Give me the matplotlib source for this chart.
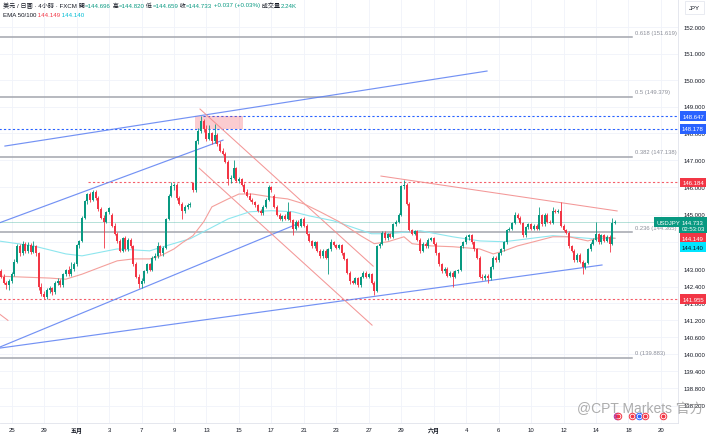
import numpy as np
import matplotlib
matplotlib.use('Agg')
import matplotlib.pyplot as plt
import matplotlib.transforms as mtransforms
from matplotlib.patches import Rectangle

plt.rcParams['font.family'] = ['Liberation Sans', 'Noto Sans CJK TC', 'DejaVu Sans']

# USDJPY 4h candles (one value per bar, left to right)
opens = [142.95, 142.75, 142.55, 142.45, 142.60, 142.85, 143.30, 143.85, 143.60, 143.95,
         143.70, 143.90, 143.65, 143.85, 143.60, 142.40, 142.15, 142.02, 142.30, 142.35,
         142.20, 142.55, 142.62, 142.45, 142.85, 143.00, 142.85, 143.05, 143.20, 143.90,
         144.05, 144.90, 145.50, 145.75, 145.55, 145.85, 145.60, 145.20, 144.90, 144.75,
         145.10, 145.00, 144.60, 144.30, 144.05, 143.70, 144.15, 143.75, 144.10, 143.85,
         143.20, 142.75, 142.50, 142.60, 142.95, 143.20, 143.00, 143.45, 143.50, 143.85,
         143.60, 143.80, 144.85, 145.70, 146.05, 146.10, 145.60, 145.40, 145.15, 145.30,
         145.35, 146.15, 145.90, 147.70, 148.10, 148.45, 148.15, 147.80, 148.00, 147.70,
         147.95, 147.60, 147.35, 147.25, 146.95, 146.30, 146.35, 146.70, 146.25, 146.30,
         146.10, 145.85, 145.70, 145.55, 145.45, 145.35, 145.15, 145.05, 145.30, 145.55,
         146.00, 145.70, 145.30, 145.00, 144.85, 144.95, 144.85, 145.10, 144.80, 144.50,
         144.75, 144.60, 144.85, 144.60, 144.30, 144.05, 143.85, 144.00, 143.70, 143.50,
         143.70, 143.45, 143.75, 144.00, 143.90, 143.80, 143.90, 143.60, 143.40, 142.90,
         142.60, 142.55, 142.70, 142.45, 142.75, 142.90, 142.75, 142.85, 142.55, 142.25,
         143.85, 143.95, 144.35, 144.15, 144.30, 144.20, 144.65, 144.75, 145.00, 146.05,
         146.10, 145.40, 144.45, 144.30, 144.40, 144.10, 143.70, 143.95, 143.85, 144.10,
         144.15, 143.95, 143.60, 143.20, 142.95, 143.05, 142.80, 142.90, 142.75, 142.95,
         143.00, 143.85, 144.00, 144.20, 144.25, 144.00, 143.75, 143.45, 142.75, 142.70,
         142.80, 142.70, 143.10, 143.45, 143.35, 143.60, 143.75, 144.00, 144.45, 144.50,
         144.70, 145.00, 144.90, 144.70, 144.25, 144.55, 144.65, 144.50, 144.60, 144.50,
         145.00, 144.65, 145.00, 144.75, 144.70, 145.15, 145.10, 145.15, 144.60, 144.45,
         144.35, 143.85, 143.70, 143.35, 143.55, 143.30, 143.10, 143.25, 143.75, 143.95,
         144.10, 144.30, 144.00, 144.25, 144.05, 144.20, 143.95, 144.696]
highs = [143.02, 142.85, 142.62, 142.68, 142.92, 143.38, 143.95, 143.95, 144.05, 144.00,
         144.00, 143.96, 144.05, 143.92, 143.65, 142.55, 142.25, 142.35, 142.42, 142.40,
         142.60, 142.70, 142.68, 142.90, 143.05, 143.15, 143.30, 143.30, 143.95, 144.10,
         144.95, 145.55, 145.80, 145.82, 145.90, 145.92, 145.70, 145.30, 145.00, 145.15,
         145.30, 145.05, 144.70, 144.38, 144.12, 144.20, 144.22, 144.15, 144.15, 143.90,
         143.28, 142.85, 142.70, 143.00, 143.25, 143.25, 143.50, 143.60, 144.00, 143.92,
         143.85, 144.90, 145.75, 146.20, 146.18, 146.15, 145.70, 145.45, 145.35, 145.42,
         145.45, 146.20, 147.75, 148.20, 148.65, 148.55, 148.30, 148.30, 148.05, 148.35,
         148.00, 147.70, 147.45, 147.30, 147.00, 146.45, 147.00, 146.75, 146.40, 146.35,
         146.15, 145.95, 145.78, 145.62, 145.50, 145.40, 145.22, 145.35, 145.60, 146.10,
         146.05, 145.75, 145.35, 145.08, 145.00, 145.02, 145.45, 145.15, 144.85, 144.80,
         144.82, 144.90, 144.92, 144.65, 144.35, 144.10, 144.05, 144.05, 143.75, 143.75,
         143.75, 143.78, 144.13, 144.05, 143.95, 143.95, 143.95, 143.65, 143.45, 142.95,
         142.65, 142.75, 142.75, 142.80, 142.95, 142.95, 142.90, 142.88, 142.60, 143.90,
         144.02, 144.40, 144.40, 144.35, 144.35, 144.70, 144.80, 145.05, 146.10, 146.28,
         146.15, 145.45, 144.50, 144.45, 144.45, 144.15, 144.00, 144.00, 144.15, 144.20,
         144.18, 144.00, 143.65, 143.25, 143.10, 143.10, 142.95, 142.95, 143.00, 143.05,
         143.90, 144.05, 144.25, 144.30, 144.30, 144.05, 143.80, 143.50, 142.85, 142.85,
         142.85, 143.15, 143.50, 143.50, 143.65, 143.80, 144.05, 144.50, 144.55, 144.75,
         145.10, 145.05, 144.95, 144.75, 144.60, 144.70, 144.70, 144.65, 144.65, 145.30,
         145.02, 145.05, 145.05, 144.80, 145.30, 145.20, 145.20, 145.47, 144.65, 144.50,
         144.40, 143.90, 143.75, 143.60, 143.60, 143.35, 143.30, 143.80, 144.00, 144.15,
         144.75, 144.35, 144.30, 144.30, 144.25, 144.25, 144.90, 144.820]
lows = [142.70, 142.48, 142.32, 142.30, 142.55, 142.80, 143.25, 143.50, 143.55, 143.62,
        143.62, 143.56, 143.60, 143.50, 142.30, 142.05, 141.96, 141.97, 142.18, 142.12,
        142.15, 142.45, 142.40, 142.40, 142.78, 142.80, 142.80, 142.95, 143.15, 143.80,
        144.00, 144.85, 145.40, 145.45, 145.50, 145.55, 145.15, 144.85, 143.80, 144.70,
        145.02, 144.55, 144.25, 143.98, 143.65, 143.65, 143.70, 143.70, 143.80, 143.15,
        142.70, 142.35, 142.36, 142.55, 142.90, 142.95, 142.95, 143.35, 143.45, 143.55,
        143.50, 143.75, 144.80, 145.65, 145.90, 145.55, 145.35, 144.85, 145.05, 145.20,
        145.28, 145.82, 145.85, 147.60, 148.00, 148.05, 147.70, 147.75, 147.60, 147.65,
        147.55, 147.30, 147.20, 146.90, 146.10, 146.15, 146.30, 146.20, 146.18, 146.05,
        145.80, 145.65, 145.50, 145.40, 145.30, 145.10, 144.98, 145.00, 145.25, 145.50,
        145.85, 145.25, 144.95, 144.80, 144.78, 144.80, 144.80, 144.75, 144.25, 144.45,
        144.55, 144.55, 144.55, 144.25, 144.00, 143.80, 143.80, 143.65, 143.45, 143.45,
        143.40, 142.85, 143.70, 143.85, 143.75, 143.75, 143.55, 143.35, 142.85, 142.50,
        142.50, 142.50, 142.38, 142.40, 142.70, 142.70, 142.70, 142.50, 142.12, 142.20,
        143.80, 143.90, 144.10, 144.10, 144.15, 144.15, 144.60, 144.70, 144.95, 145.95,
        145.35, 144.40, 144.25, 144.25, 144.05, 143.60, 143.65, 143.80, 143.80, 144.05,
        143.90, 143.55, 143.15, 142.90, 142.90, 142.75, 142.75, 142.38, 142.70, 142.90,
        142.95, 143.80, 143.95, 144.10, 143.95, 143.70, 143.40, 142.70, 142.65, 142.65,
        142.55, 142.65, 143.05, 143.30, 143.30, 143.55, 143.70, 143.95, 144.40, 144.45,
        144.65, 144.85, 144.65, 144.20, 144.20, 144.50, 144.45, 144.45, 144.45, 144.45,
        144.60, 144.60, 144.70, 144.65, 144.65, 145.05, 145.05, 144.55, 144.40, 144.30,
        143.80, 143.65, 143.30, 143.30, 143.25, 142.85, 143.05, 143.20, 143.70, 143.90,
        144.05, 143.95, 143.95, 144.00, 144.00, 143.65, 143.90, 144.659]
closes = [142.75, 142.55, 142.45, 142.60, 142.85, 143.30, 143.85, 143.60, 143.95, 143.70,
          143.90, 143.65, 143.85, 143.60, 142.40, 142.15, 142.02, 142.30, 142.35, 142.20,
          142.55, 142.62, 142.45, 142.85, 143.00, 142.85, 143.05, 143.20, 143.90, 144.05,
          144.90, 145.50, 145.75, 145.55, 145.85, 145.60, 145.20, 144.90, 144.75, 145.10,
          145.25, 144.60, 144.30, 144.05, 143.70, 144.15, 143.75, 144.10, 143.85, 143.20,
          142.75, 142.50, 142.60, 142.95, 143.20, 143.00, 143.45, 143.50, 143.85, 143.60,
          143.80, 144.85, 145.70, 146.05, 146.10, 145.60, 145.40, 145.15, 145.30, 145.35,
          145.40, 145.90, 147.70, 148.10, 148.45, 148.15, 147.80, 148.00, 147.70, 147.95,
          147.60, 147.35, 147.25, 146.95, 146.30, 146.35, 146.70, 146.25, 146.30, 146.10,
          145.85, 145.70, 145.55, 145.45, 145.35, 145.15, 145.05, 145.30, 145.55, 146.00,
          145.90, 145.30, 145.00, 144.85, 144.95, 144.85, 145.10, 144.80, 144.50, 144.75,
          144.60, 144.85, 144.60, 144.30, 144.05, 143.85, 144.00, 143.70, 143.50, 143.70,
          143.45, 143.75, 144.00, 143.90, 143.80, 143.90, 143.60, 143.40, 142.90, 142.60,
          142.55, 142.70, 142.45, 142.75, 142.90, 142.75, 142.85, 142.55, 142.25, 143.85,
          143.95, 144.35, 144.15, 144.30, 144.20, 144.65, 144.75, 145.00, 146.05, 146.10,
          145.40, 144.45, 144.30, 144.40, 144.10, 143.70, 143.95, 143.85, 144.10, 144.15,
          143.95, 143.60, 143.20, 142.95, 143.05, 142.80, 142.90, 142.75, 142.95, 143.00,
          143.85, 144.00, 144.20, 144.25, 144.00, 143.75, 143.45, 142.75, 142.70, 142.80,
          142.70, 143.10, 143.45, 143.35, 143.60, 143.75, 144.00, 144.45, 144.50, 144.70,
          145.00, 144.90, 144.70, 144.25, 144.55, 144.65, 144.50, 144.60, 144.50, 145.00,
          144.65, 145.00, 144.75, 144.70, 145.15, 145.10, 145.15, 144.60, 144.45, 144.35,
          143.85, 143.70, 143.35, 143.55, 143.30, 143.10, 143.25, 143.75, 143.95, 144.10,
          144.30, 144.00, 144.25, 144.05, 144.20, 143.95, 144.70, 144.733]

# EMA 50 / EMA 100 values
ema50_bars = [-1, 7, 18, 24, 30, 37, 43, 49, 55, 59, 64, 67, 71, 75, 78, 84, 88, 93, 100,
              106, 112, 118, 125, 133, 138, 143, 149, 152, 159, 167, 177, 182, 186, 191,
              197, 204, 210, 217, 222, 227]
ema50_vals = [142.78, 142.75, 142.71, 142.67, 142.85, 143.11, 143.33, 143.40, 143.40, 143.51,
              143.76, 143.98, 144.24, 144.75, 145.29, 145.58, 145.76, 145.76, 145.65, 145.58,
              145.40, 145.11, 144.75, 144.24, 143.95, 144.02, 144.20, 143.95, 143.87, 143.84,
              143.76, 143.58, 143.69, 143.87, 144.02, 144.20, 144.20, 144.05, 144.20, 144.149]
ema100_bars = [-1, 12, 24, 30, 43, 55, 61, 70, 77, 84, 92, 100, 108, 114, 123, 137, 143,
               155, 167, 177, 186, 195, 204, 210, 219, 227]
ema100_vals = [144.05, 143.87, 143.58, 143.51, 143.76, 143.69, 143.87, 144.13, 144.49, 144.85,
               145.11, 145.15, 145.11, 144.96, 144.78, 144.31, 144.31, 144.42, 144.20, 144.05,
               144.02, 144.13, 144.24, 144.20, 144.13, 144.14]

tick_bars = [4 + 12 * k for k in range(21)]
tick_labels = ['25', '29', '五月', '3', '7', '9', '13', '15', '17', '21', '23', '27', '29',
               '六月', '4', '6', '10', '12', '14', '18', '20']
price_ticks = [152, 151, 150, 149, 148, 147, 146, 145, 144, 143, 142.4, 141.8, 141.2,
               140.6, 140, 139.4, 138.8, 138.2]

fib_ratios = ['0.618', '0.5', '0.382', '0.236', '0']
fib_prices = [151.619, 149.379, 147.138, 144.365, 139.883]

# trend lines drawn on the chart: (bar, price) -> (bar, price)
blue_lines = [((1.5, 147.53), (179.7, 150.34)),
              ((-1, 144.69), (82.1, 147.75)),
              ((-1, 140.23), (108.7, 144.63)),
              ((-1, 140.21), (222.2, 143.18))]
red_lines = [((73.6, 148.91), (137.6, 143.14)),
             ((73.3, 146.71), (137.2, 141.03)),
             ((-1, 141.46), (2.6, 141.20)),
             ((140.5, 146.42), (227.8, 145.14))]

UP, DOWN = '#089981', '#f23645'

fig = plt.figure(figsize=(7.1, 4.39), dpi=100)
ax = fig.add_axes([0, 15 / 439, 678 / 710, 424 / 439])
ax.set_yscale('log')
ax.set_ylim(137.60, 153.09)
ax.set_xlim(-0.33, 250.3)
ax.set_xticks([])
ax.set_yticks([])
ax.set_yticks([], minor=True)
for s in ['left', 'top']:
    ax.spines[s].set_visible(False)
for s in ['right', 'bottom']:
    ax.spines[s].set_color('#e0e3eb')
    ax.spines[s].set_linewidth(0.6)

ytr = mtransforms.blended_transform_factory(ax.transAxes, ax.transData)
xtr = mtransforms.blended_transform_factory(ax.transData, ax.transAxes)

# grid
ax.vlines(tick_bars, 137, 154, color='#f0f3fa', lw=0.6, zorder=0)
ax.hlines(price_ticks, -5, 260, color='#f0f3fa', lw=0.6, zorder=0)

# fib retracement
for r, p in zip(fib_ratios, fib_prices):
    ax.plot([-1, 233.3], [p, p], color='#a3a6ae', lw=1.1, zorder=1)
    ax.annotate(f'{r} ({p:.3f})', xy=(234.4, p), xytext=(0, 2.5), textcoords='offset pixels',
                fontsize=4.2, color='#8c8f99', va='bottom', ha='left')

# horizontal levels
ax.plot([-1, 260], [148.178, 148.178], color='#2962ff', lw=0.8, ls=(0, (2, 2)), zorder=2)
ax.plot([74.7, 260], [148.647, 148.647], color='#2962ff', lw=0.8, ls=(0, (2, 2)), zorder=2)
ax.plot([32.2, 260], [146.184, 146.184], color=DOWN, lw=0.8, ls=(0, (2, 2)), alpha=0.8, zorder=2)
ax.plot([-1, 260], [141.955, 141.955], color=DOWN, lw=0.8, ls=(0, (2, 2)), alpha=0.8, zorder=2)
ax.plot([-1, 260], [144.733, 144.733], color=UP, lw=0.6, alpha=0.35, zorder=2)

ax.add_patch(Rectangle((71.8, 148.178), 17.7, 148.647 - 148.178, fc=DOWN, alpha=0.25,
                       ec='none', zorder=2))

for (x0, y0), (x1, y1) in blue_lines:
    ax.plot([x0, x1], [y0, y1], color='#5b7ff2', lw=0.85, alpha=0.85, zorder=2)
for (x0, y0), (x1, y1) in red_lines:
    ax.plot([x0, x1], [y0, y1], color='#f28c8c', lw=0.75, alpha=0.9, zorder=2)

# EMAs
ax.plot(ema100_bars, ema100_vals, color='#8ee6ee', lw=0.8, zorder=2)
ax.plot(ema50_bars, ema50_vals, color='#f4a09c', lw=0.8, zorder=2)

# candles
x = np.arange(len(closes))
o = np.array(opens)
c = np.array(closes)
cols = np.where(c >= o, UP, DOWN)
ax.vlines(x, lows, highs, colors=cols, lw=0.6, zorder=3)
ax.bar(x, np.maximum(np.abs(c - o), 0.012), bottom=np.minimum(o, c), width=0.74,
       color=cols, linewidth=0, zorder=4)

# price scale labels
for p in price_ticks:
    ax.text(1.0236, p, f'{p:.3f}', transform=ytr, fontsize=4.3, color='#131722',
            ha='center', va='center', clip_on=False)


def box(xa, p, s, fc, tc='white', ls=1.0):
    ax.text(xa, p, s, transform=ytr, fontsize=4.3, color=tc, ha='center', va='center',
            linespacing=ls, clip_on=False, zorder=10,
            bbox=dict(boxstyle='square,pad=0.4', fc=fc, ec='none'))


box(1.0221, 148.647, '148.647', '#2962ff')
box(1.0221, 148.178, '148.178', '#2962ff')
box(1.0221, 146.184, '146.184', DOWN)
box(1.0221, 144.62, '144.733\n02:53:03', UP, ls=1.2)
box(0.9853, 144.733, 'USDJPY', UP)
box(1.0221, 144.149, '144.149', DOWN)
box(1.0221, 143.82, '144.140', '#00e5ff', tc='#131722')
box(1.0221, 141.955, '141.955', DOWN)
ax.text(1.0243, 0.98, 'JPY', transform=ax.transAxes, fontsize=4.3, color='#131722', ha='center',
        va='center', clip_on=False,
        bbox=dict(boxstyle='square,pad=0.6', fc='white', ec='#e0e3eb', lw=0.5))

# time axis
for b, lab in zip(tick_bars, tick_labels):
    ax.text(b, -0.0165, lab, transform=xtr, fontsize=4.3, color='#131722', ha='center',
            va='center', clip_on=False, fontweight='bold' if '月' in lab else 'normal')

# legend lines
def legend_line(y, parts):
    t = ax.text(3 / 678, y, parts[0][0], color=parts[0][1], transform=ax.transAxes,
                fontsize=4.4, va='center', ha='left')
    for s, col in parts[1:]:
        t = ax.annotate(s, xy=(1, 0.5), xycoords=t, va='center', ha='left', color=col,
                        fontsize=4.4)


legend_line(1 - 6 / 424, [('美元 / 日圓 · 4小時 · FXCM', '#131722'),
                          (' 開', '#131722'), ('=144.696', UP),
                          (' 高', '#131722'), ('=144.820', UP),
                          (' 低', '#131722'), ('=144.659', UP),
                          (' 收', '#131722'), ('=144.733', UP),
                          (' +0.037 (+0.03%)', UP),
                          (' 成交量', '#131722'), ('2.24K', UP)])
legend_line(1 - 15.5 / 424, [('EMA 50/100', '#131722'), (' 144.149', DOWN),
                             (' 144.140', '#00bcd4')])

# event markers and watermark
event_bars = [227.7, 228.3, 233.2, 235.8, 238.2, 244.8]
event_cols = ['#9c27b0', DOWN, DOWN, '#2962ff', DOWN, DOWN]
for b, col in zip(event_bars, event_cols):
    ax.scatter([b], [1 - 417 / 424], transform=xtr, s=22, facecolor='white', edgecolor=col,
               lw=0.7, zorder=8, clip_on=False)
    ax.scatter([b], [1 - 417 / 424], transform=xtr, s=3, color=col, zorder=9, clip_on=False)

ax.text(1.038, 1 - 409 / 424, '@CPT Markets 官方', transform=ax.transAxes, fontsize=10,
        color='#8a8a8a', alpha=0.7, ha='right', va='center', clip_on=False, zorder=7)

fig.savefig('out.png', dpi=100)
